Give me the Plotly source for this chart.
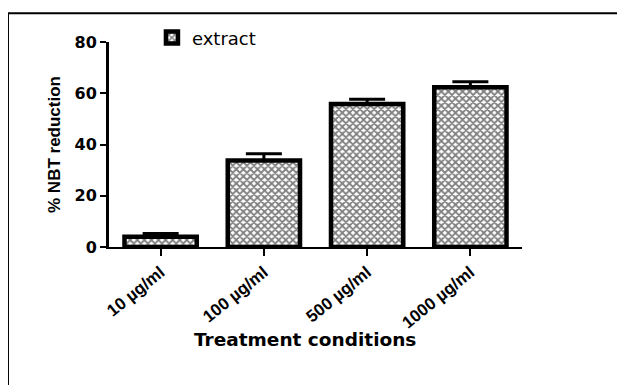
import plotly.graph_objects as go

categories = ["10 µg/ml", "100 µg/ml", "500 µg/ml", "1000 µg/ml"]
values = [4.0, 33.8, 55.8, 62.3]
errors = [1.3, 2.6, 1.9, 2.2]
y_ticks = [0, 20, 40, 60, 80]

FONT = "DejaVu Sans, sans-serif"
ARIAL = "Liberation Sans, Arial, sans-serif"

fig = go.Figure()
fig.add_trace(go.Bar(
    x=categories, y=values, name="extract", width=0.7,
    marker=dict(color="white", line=dict(color="black", width=4.5),
                pattern=dict(shape="x", size=5, solidity=0.6, fgcolor="black", bgcolor="white")),
    error_y=dict(type="data", array=errors, arrayminus=[0]*len(errors), symmetric=False,
                 color="black", thickness=3, width=18),
))

fig.update_layout(
    width=625, height=385,
    margin=dict(l=101, r=111, t=33, b=146),
    paper_bgcolor="white", plot_bgcolor="white",
    font=dict(family=FONT, color="black"),
    showlegend=True,
    legend=dict(x=0.104, y=1.015, xanchor="left", yanchor="middle",
                font=dict(size=18, family=FONT), bgcolor="rgba(0,0,0,0)"),
    xaxis=dict(range=[-0.5, 3.5], showline=True, linecolor="black", linewidth=1.5,
               ticks="outside", ticklen=7, tickwidth=2, tickcolor="black",
               tickangle=-39, tickfont=dict(size=17, family=ARIAL, weight="bold"),
               showgrid=False, zeroline=False),
    yaxis=dict(range=[0, 80], tickvals=y_ticks, showline=True, linecolor="black", linewidth=3,
               ticks="outside", ticklen=6, tickwidth=2, tickcolor="black",
               tickfont=dict(size=16, family=FONT, weight="bold"),
               showgrid=False, zeroline=False,
               title=dict(text="% NBT reduction", font=dict(size=17, family=ARIAL, weight="bold"), standoff=10)),
)

fig.add_annotation(text="Treatment conditions", xref="paper", yref="paper",
                   x=0.4746, y=-0.451, xanchor="center", yanchor="middle", showarrow=False,
                   font=dict(size=18.5, family=FONT, weight="bold"))

fig.add_shape(type="rect", xref="paper", yref="paper",
              x0=-0.2446, y0=1.1408, x1=2.0, y1=-2.0,
              line=dict(color="black", width=2), fillcolor="rgba(0,0,0,0)", layer="below")

fig.write_html("out.html")
